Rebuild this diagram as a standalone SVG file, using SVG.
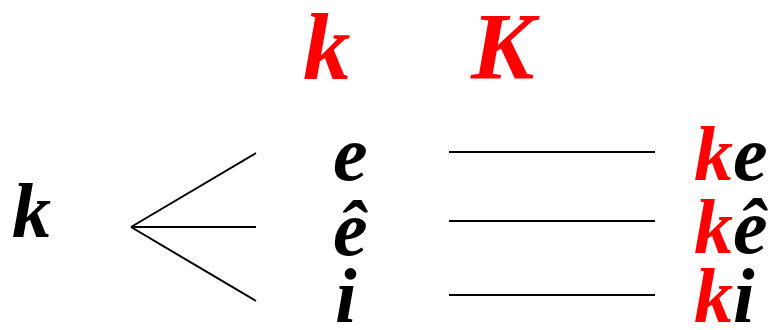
<svg xmlns="http://www.w3.org/2000/svg" width="773" height="330" viewBox="0 0 773 330">
<style>
.r{fill:#ff0000}
.big{font-size:95px}
.m{font-size:78px}
.c{stroke:#000;stroke-width:2}
</style>
<rect width="773" height="330" fill="#fff"/>
<g font-family="Liberation Serif, Times New Roman, serif" font-weight="bold" font-style="italic" fill="#000">
<g id="header">
<text class="big r" x="303" y="79">k</text>
<text class="big r" x="471" y="79">K</text>
</g>
<g id="root"><text class="m" x="12" y="237">k</text></g>
<g id="v-e"><text class="m" x="333" y="180">e</text></g>
<g id="v-ehat"><text class="m" x="333" y="255">ê</text></g>
<g id="v-i"><text class="m" x="335" y="322">i</text></g>
<g id="r-ke"><text class="m" x="694" y="180"><tspan class="r">k</tspan>e</text></g>
<g id="r-kehat"><text class="m" x="694" y="253"><tspan class="r">k</tspan>ê</text></g>
<g id="r-ki"><text class="m" x="694" y="322"><tspan class="r">k</tspan>i</text></g>
</g>
<g id="connectors" class="c">
<line x1="131" y1="227" x2="256" y2="153"/>
<line x1="131" y1="227" x2="256" y2="227"/>
<line x1="131" y1="227" x2="256" y2="301"/>
<line x1="449" y1="152" x2="655" y2="152"/>
<line x1="449" y1="221" x2="655" y2="221"/>
<line x1="449" y1="295" x2="655" y2="295"/>
</g>
</svg>
